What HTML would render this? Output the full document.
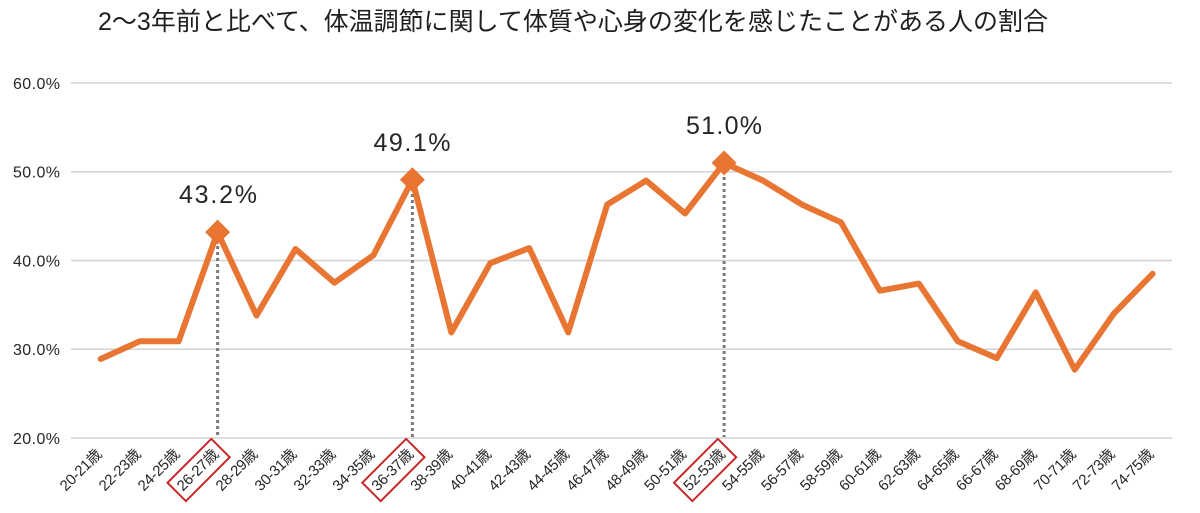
<!DOCTYPE html>
<html>
<head>
<meta charset="utf-8">
<style>
html,body{margin:0;padding:0;background:#fff;}
svg{display:block;}
</style>
</head>
<body>
<svg width="1200" height="513" viewBox="0 0 1200 513" xmlns="http://www.w3.org/2000/svg">
<rect width="1200" height="513" fill="#fff"/>
<text x="98" y="30" textLength="950" lengthAdjust="spacingAndGlyphs" font-family="'Liberation Sans','Noto Sans CJK JP',sans-serif" font-size="25" fill="#1f1f1f">2～3年前と比べて、体温調節に関して体質や心身の変化を感じたことがある人の割合</text>

<g stroke="#d3d3d3" stroke-width="1.6">
<line x1="71" y1="83" x2="1172" y2="83"/>
<line x1="71" y1="171.75" x2="1172" y2="171.75"/>
<line x1="71" y1="260.5" x2="1172" y2="260.5"/>
<line x1="71" y1="349.25" x2="1172" y2="349.25"/>
<line x1="71" y1="438" x2="1172" y2="438"/>
</g>

<g font-family="'Liberation Sans',sans-serif" font-size="16" fill="#262626" text-anchor="end">
<text x="60" y="89" textLength="47">60.0%</text>
<text x="60" y="177.5" textLength="47">50.0%</text>
<text x="60" y="266.5" textLength="47">40.0%</text>
<text x="60" y="355" textLength="47">30.0%</text>
<text x="60" y="444" textLength="47">20.0%</text>
</g>

<g stroke="#7a7a7a" stroke-width="3" stroke-dasharray="3 3">
<line x1="217.6" y1="240" x2="217.6" y2="437"/>
<line x1="412.4" y1="188" x2="412.4" y2="437"/>
<line x1="724.1" y1="171" x2="724.1" y2="437"/>
</g>

<polyline fill="none" stroke="#E97532" stroke-width="6" stroke-linejoin="round" stroke-linecap="round"
points="100.7,359.0 139.66,341.3 178.62,341.3 217.58,232.1 256.54,315.5 295.5,249.0 334.46,282.7 373.42,255.2 412.38,179.7 451.34,332.4 490.3,263.2 529.26,248.1 568.22,332.4 607.18,204.6 646.14,180.6 685.1,213.5 724.06,162.9 763.02,180.6 801.98,204.6 840.94,222.3 879.9,290.7 918.86,283.6 957.82,341.3 996.78,358.1 1035.74,292.4 1074.7,369.7 1113.66,313.8 1152.62,273.8"/>

<g fill="#E97532">
<polygon points="217.6,219.6 230.1,232.1 217.6,244.6 205.1,232.1"/>
<polygon points="412.4,167.2 424.9,179.7 412.4,192.2 399.9,179.7"/>
<polygon points="724.1,150.4 736.6,162.9 724.1,175.4 711.6,162.9"/>
</g>

<g font-family="'Liberation Sans',sans-serif" font-size="25" fill="#262626" text-anchor="middle">
<text x="218" y="203" textLength="78">43.2%</text>
<text x="412" y="151" textLength="77">49.1%</text>
<text x="724" y="134" textLength="76">51.0%</text>
</g>

<g font-family="'Liberation Sans','Noto Sans CJK JP',sans-serif" font-size="15" fill="#262626" text-anchor="end">
<text transform="translate(102.7,455) rotate(-45)" textLength="52">20-21歳</text>
<text transform="translate(141.7,455) rotate(-45)" textLength="52">22-23歳</text>
<text transform="translate(180.6,455) rotate(-45)" textLength="52">24-25歳</text>
<text transform="translate(219.6,455) rotate(-45)" textLength="52">26-27歳</text>
<text transform="translate(258.5,455) rotate(-45)" textLength="52">28-29歳</text>
<text transform="translate(297.5,455) rotate(-45)" textLength="52">30-31歳</text>
<text transform="translate(336.5,455) rotate(-45)" textLength="52">32-33歳</text>
<text transform="translate(375.4,455) rotate(-45)" textLength="52">34-35歳</text>
<text transform="translate(414.4,455) rotate(-45)" textLength="52">36-37歳</text>
<text transform="translate(453.3,455) rotate(-45)" textLength="52">38-39歳</text>
<text transform="translate(492.3,455) rotate(-45)" textLength="52">40-41歳</text>
<text transform="translate(531.3,455) rotate(-45)" textLength="52">42-43歳</text>
<text transform="translate(570.2,455) rotate(-45)" textLength="52">44-45歳</text>
<text transform="translate(609.2,455) rotate(-45)" textLength="52">46-47歳</text>
<text transform="translate(648.1,455) rotate(-45)" textLength="52">48-49歳</text>
<text transform="translate(687.1,455) rotate(-45)" textLength="52">50-51歳</text>
<text transform="translate(726.1,455) rotate(-45)" textLength="52">52-53歳</text>
<text transform="translate(765.0,455) rotate(-45)" textLength="52">54-55歳</text>
<text transform="translate(804.0,455) rotate(-45)" textLength="52">56-57歳</text>
<text transform="translate(842.9,455) rotate(-45)" textLength="52">58-59歳</text>
<text transform="translate(881.9,455) rotate(-45)" textLength="52">60-61歳</text>
<text transform="translate(920.9,455) rotate(-45)" textLength="52">62-63歳</text>
<text transform="translate(959.8,455) rotate(-45)" textLength="52">64-65歳</text>
<text transform="translate(998.8,455) rotate(-45)" textLength="52">66-67歳</text>
<text transform="translate(1037.7,455) rotate(-45)" textLength="52">68-69歳</text>
<text transform="translate(1076.7,455) rotate(-45)" textLength="52">70-71歳</text>
<text transform="translate(1115.7,455) rotate(-45)" textLength="52">72-73歳</text>
<text transform="translate(1154.6,455) rotate(-45)" textLength="52">74-75歳</text>
</g>

<g fill="none" stroke="#C62828" stroke-width="2">
<rect x="-31" y="-13" width="62" height="26" transform="translate(198.6,470) rotate(-45)"/>
<rect x="-31" y="-13" width="62" height="26" transform="translate(393.4,470) rotate(-45)"/>
<rect x="-31" y="-13" width="62" height="26" transform="translate(705.1,470) rotate(-45)"/>
</g>
</svg>
</body>
</html>
